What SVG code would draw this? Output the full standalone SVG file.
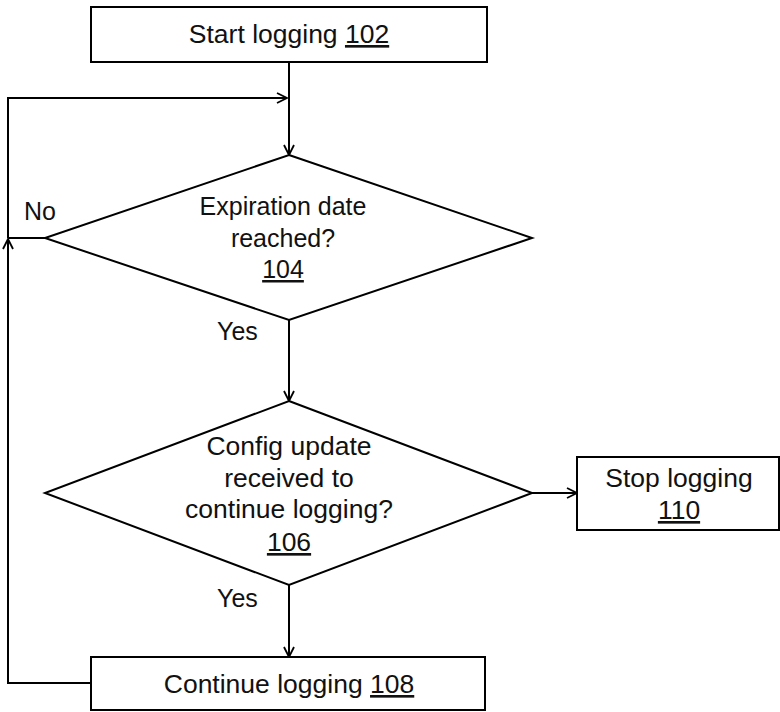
<svg xmlns="http://www.w3.org/2000/svg" width="780" height="712" viewBox="0 0 780 712">
<style>
.box{fill:#fff;stroke:#000;stroke-width:2}
.t{font-family:"Liberation Sans",Arial,sans-serif;font-size:26.5px;fill:#111;text-anchor:middle}
.t2{font-size:25px}
.l{font-family:"Liberation Sans",Arial,sans-serif;font-size:25px;fill:#111}
.u{text-decoration:underline}
.c{fill:none;stroke:#000;stroke-width:2}
</style>
<defs>
<marker id="a" viewBox="0 0 12 12" refX="11" refY="6" markerWidth="12" markerHeight="12" markerUnits="userSpaceOnUse" orient="auto">
<path d="M1,1 L11,6 L1,11" fill="none" stroke="#000" stroke-width="1.8"/>
</marker>
</defs>
<rect width="780" height="712" fill="#fff"/>
<g id="connectors">
<line class="c" x1="289" y1="62" x2="289" y2="155" marker-end="url(#a)"/>
<polyline class="c" points="45,238 8,238"/>
<polyline class="c" points="91,683 8,683 8,239" marker-end="url(#a)"/>
<polyline class="c" points="8,238 8,98 287,98" marker-end="url(#a)"/>
<line class="c" x1="289" y1="320" x2="289" y2="401" marker-end="url(#a)"/>
<line class="c" x1="532" y1="493" x2="577" y2="493" marker-end="url(#a)"/>
<line class="c" x1="289" y1="585" x2="289" y2="657" marker-end="url(#a)"/>
<text class="l" x="24" y="220">No</text>
<text class="l" x="217" y="340">Yes</text>
<text class="l" x="217" y="607">Yes</text>
</g>
<g id="n102">
<rect class="box" x="91" y="7" width="396" height="55"/>
<text class="t" x="289" y="43">Start logging <tspan class="u">102</tspan></text>
</g>
<g id="n104">
<polygon class="box" points="289,155 532,238 289,320 45,238"/>
<text class="t t2" x="283" y="215">Expiration date</text>
<text class="t t2" x="283" y="247">reached?</text>
<text class="t t2 u" x="283" y="278">104</text>
</g>
<g id="n106">
<polygon class="box" points="289,401 532,493 289,585 45,493"/>
<text class="t" x="289" y="455">Config update</text>
<text class="t" x="289" y="487">received to</text>
<text class="t" x="289" y="518">continue logging?</text>
<text class="t u" x="289" y="551">106</text>
</g>
<g id="n108">
<rect class="box" x="91" y="657" width="394" height="53"/>
<text class="t" x="289" y="693">Continue logging <tspan class="u">108</tspan></text>
</g>
<g id="n110">
<rect class="box" x="577" y="457" width="202" height="73"/>
<text class="t" x="679" y="487">Stop logging</text>
<text class="t u" x="679" y="519">110</text>
</g>
</svg>
